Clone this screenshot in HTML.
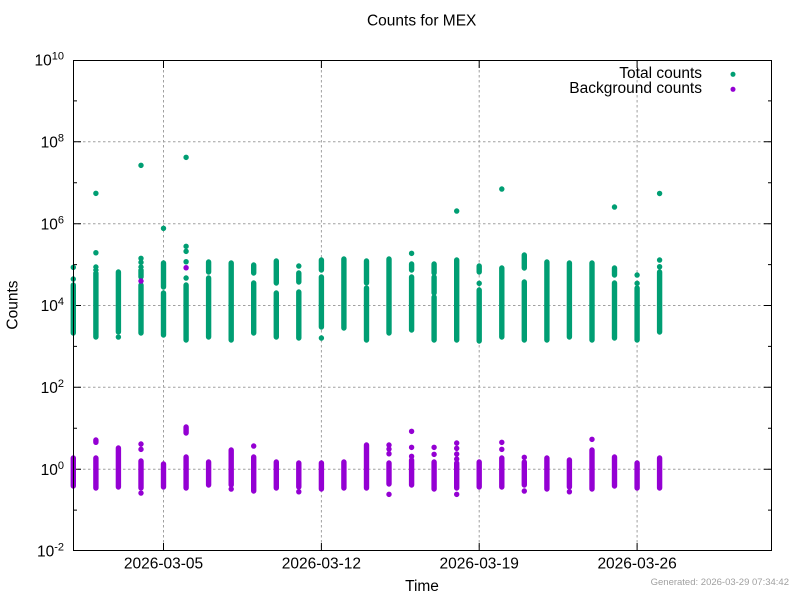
<!DOCTYPE html>
<html><head><meta charset="utf-8"><style>
html,body{margin:0;padding:0;background:#fff;}
svg{display:block;}
text{font-family:"Liberation Sans",Arial,sans-serif;fill:#000;}
</style></head><body>
<svg width="800" height="600" viewBox="0 0 800 600" xmlns="http://www.w3.org/2000/svg">
<rect width="800" height="600" fill="#fff"/>
<!-- grid -->
<g stroke="#a0a0a0" stroke-width="1" stroke-dasharray="2.5,2.5" fill="none">
<path d="M73 141.8H772 M73 223.7H772 M73 305.5H772 M73 387.3H772 M73 469.2H772"/>
<path d="M163.5 60V551 M321.4 60V551 M479.2 60V551 M637.1 60V551"/>
</g>
<!-- ticks -->
<g stroke="#000" stroke-width="1" fill="none">
<path d="M73 60.5h8 M73 141.8h8 M73 223.7h8 M73 305.5h8 M73 387.3h8 M73 469.2h8 M73 550.5h8
M772 60.5h-8 M772 141.8h-8 M772 223.7h-8 M772 305.5h-8 M772 387.3h-8 M772 469.2h-8 M772 550.5h-8
M73 100.9h4 M73 182.8h4 M73 264.6h4 M73 346.4h4 M73 428.3h4 M73 510.1h4
M772 100.9h-4 M772 182.8h-4 M772 264.6h-4 M772 346.4h-4 M772 428.3h-4 M772 510.1h-4
M163.5 551v-8 M321.4 551v-8 M479.2 551v-8 M637.1 551v-8
M163.5 60v8 M321.4 60v8 M479.2 60v8 M637.1 60v8"/>
</g>
<!-- data: total counts -->
<path fill="none" stroke="#009e73" stroke-width="5.4" stroke-linecap="round" d="
M73.3 267.3v.1 M73.3 279v.1 M73.3 285V333
M95.9 193.3v.1 M95.9 252.7v.1 M95.9 267v.1 M95.9 270v.1 M95.9 273V337
M118.4 272V332 M118.4 337v.1
M141 165.3v.1 M141 258.3v.1 M141 262.3v.1 M141 267v.1 M141 270V277 M141 285V333
M163.5 228.3v.1 M163.5 263V287 M163.5 293V335
M186.1 157.3v.1 M186.1 246.3v.1 M186.1 251.3v.1 M186.1 261.7v.1 M186.1 278v.1 M186.1 285V340
M208.6 262V272 M208.6 278V337
M231.2 263V340
M253.7 265V273 M253.7 283V333
M276.3 261V283 M276.3 293V337
M298.8 266v.1 M298.8 273V282 M298.8 292V338
M321.4 260V270 M321.4 277V327 M321.4 338v.1
M343.9 259V328
M366.5 261V283 M366.5 288V340
M389 259V333
M411.6 253.3v.1 M411.6 264V270 M411.6 277V330
M434.1 264V273 M434.1 277V293 M434.1 297V340
M456.7 211v.1 M456.7 260V340
M479.2 266V272 M479.2 283.3v.1 M479.2 290V341
M501.8 189v.1 M501.8 268V337
M524.3 255V268 M524.3 282V340
M546.9 262V340
M569.4 263V337
M592 263V340
M614.5 207v.1 M614.5 268V275 M614.5 283V338
M637.1 275v.1 M637.1 283.3v.1 M637.1 288V340
M659.6 193.4v.1 M659.6 260v.1 M659.6 266.7v.1 M659.6 272V332
"/>
<!-- data: background counts -->
<path fill="none" stroke="#9400d3" stroke-width="5.4" stroke-linecap="round" d="
M141 281v.1 M186.1 267.7v.1
M73.3 458V486
M95.9 440V442.3 M95.9 458V488
M118.4 448V487
M141 444v.1 M141 449.3v.1 M141 461V488 M141 493v.1
M163.5 464V487
M186.1 427V433 M186.1 457V488
M208.6 462V485
M231.2 450V485 M231.2 489v.1
M253.7 446v.1 M253.7 457V491
M276.3 462V488
M298.8 463V487 M298.8 491.7v.1
M321.4 463V489
M343.9 462V488
M366.5 445V488
M389 445v.1 M389 449v.1 M389 453.7v.1 M389 463V484 M389 494.3v.1
M411.6 431.3v.1 M411.6 447.3v.1 M411.6 456.3v.1 M411.6 460V485
M434.1 447.3v.1 M434.1 454.3v.1 M434.1 462V489
M456.7 443v.1 M456.7 448.3v.1 M456.7 454v.1 M456.7 459v.1 M456.7 463V488 M456.7 494.3v.1
M479.2 462V487
M501.8 442.3v.1 M501.8 449.3v.1 M501.8 458V487
M524.3 457.3v.1 M524.3 462V485 M524.3 491v.1
M546.9 458V489
M569.4 460V487 M569.4 491.7v.1
M592 439.3v.1 M592 450V489
M614.5 457V486
M637.1 463V488
M659.6 458V488
"/>
<!-- border -->
<rect x="73.5" y="60.5" width="698" height="490" fill="none" stroke="#000" stroke-width="1"/>
<!-- y tick labels -->
<g font-size="15.5" text-anchor="end">
<text x="64" y="65.6">10<tspan font-size="11" dy="-6">10</tspan></text>
<text x="64" y="147.4">10<tspan font-size="11" dy="-6">8</tspan></text>
<text x="64" y="229.3">10<tspan font-size="11" dy="-6">6</tspan></text>
<text x="64" y="311.1">10<tspan font-size="11" dy="-6">4</tspan></text>
<text x="64" y="392.9">10<tspan font-size="11" dy="-6">2</tspan></text>
<text x="64" y="474.8">10<tspan font-size="11" dy="-6">0</tspan></text>
<text x="64" y="556.6">10<tspan font-size="11" dy="-6">-2</tspan></text>
</g>
<!-- x tick labels -->
<g font-size="15.5" text-anchor="middle">
<text x="163.5" y="568.3">2026-03-05</text>
<text x="321.4" y="568.3">2026-03-12</text>
<text x="479.2" y="568.3">2026-03-19</text>
<text x="637.1" y="568.3">2026-03-26</text>
</g>
<!-- titles -->
<text x="421.7" y="25.7" font-size="15.5" text-anchor="middle">Counts for MEX</text>
<text x="422" y="591" font-size="15.5" text-anchor="middle">Time</text>
<text transform="translate(17.3,305) rotate(-90)" font-size="15.5" text-anchor="middle">Counts</text>
<!-- legend -->
<g font-size="15.5" text-anchor="end">
<text x="702" y="78">Total counts</text>
<text x="702" y="93">Background counts</text>
</g>
<path fill="none" stroke="#009e73" stroke-width="5" stroke-linecap="round" d="M733 74.3v.1"/>
<path fill="none" stroke="#9400d3" stroke-width="5" stroke-linecap="round" d="M733 89.3v.1"/>
<!-- footer -->
<text x="789" y="585" font-size="9.5" text-anchor="end" style="fill:#a0a0a0">Generated: 2026-03-29 07:34:42</text>
</svg>
</body></html>
